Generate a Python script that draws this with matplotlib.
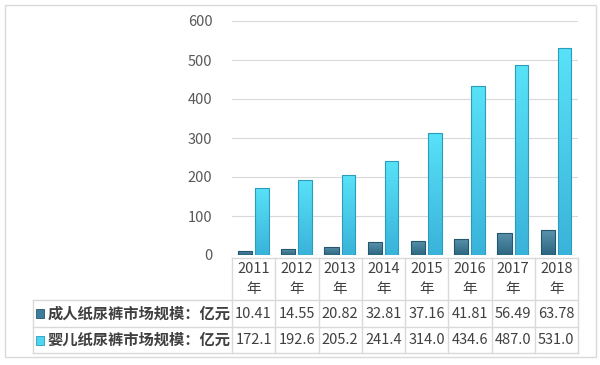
import numpy as np
import matplotlib
matplotlib.use('Agg')
import matplotlib.pyplot as plt
from matplotlib.patches import Rectangle
from matplotlib.lines import Line2D
from matplotlib.colors import LinearSegmentedColormap

years = ['2011', '2012', '2013', '2014', '2015', '2016', '2017', '2018']
adult = [10.41, 14.55, 20.82, 32.81, 37.16, 41.81, 56.49, 63.78]
baby = [172.1, 192.6, 205.2, 241.4, 314.0, 434.6, 487.0, 531.0]
series_names = ['成人纸尿裤市场规模：亿元', '婴儿纸尿裤市场规模：亿元']
yticks = [0, 100, 200, 300, 400, 500, 600]

plt.rcParams['font.family'] = ['Noto Sans CJK SC', 'DejaVu Sans']

W, H = 600, 365
fig = plt.figure(figsize=(6, 3.65), dpi=100)

def fx(px):
    return px / W

def fy(py):
    return 1 - py / H

# outer frame
fig.patches.append(Rectangle((fx(5), fy(357)), fx(591), 352 / H, transform=fig.transFigure,
                             fill=False, edgecolor='#d9d9d9', lw=1))

c_dark = '#3c7d9b'
c_dark_edge = '#24576e'
c_light = '#4dd6f1'
c_light_edge = '#2c9cbc'
grid_c = '#d9d9d9'
txt_c = '#404040'

cm_dark = LinearSegmentedColormap.from_list('d', ['#2c6681', '#5b93ad'])
cm_light = LinearSegmentedColormap.from_list('l', ['#3ab3da', '#58e2f8'])

ax = fig.add_axes([fx(232), fy(255), fx(578 - 232), (255 - 21) / H])
x = np.arange(len(years))
b1 = ax.bar(x - 0.2, adult, width=0.33, color=c_dark, edgecolor=c_dark_edge, lw=0.8, zorder=3)
b2 = ax.bar(x + 0.19, baby, width=0.31, color=c_light, edgecolor=c_light_edge, lw=0.8, zorder=3)
ax.set_xlim(-0.5, len(years) - 0.5)
ax.set_ylim(0, 600)

grad = np.linspace(0, 1, 64).reshape(-1, 1)
for bars, cm in [(b1, cm_dark), (b2, cm_light)]:
    for p in bars:
        x0, y0 = p.get_x(), p.get_y()
        w, h = p.get_width(), p.get_height()
        im = ax.imshow(grad, cmap=cm, extent=[x0, x0 + w, y0, y0 + h], origin='lower',
                       aspect='auto', zorder=3.5, interpolation='bilinear')
        im.set_clip_path(p)
        p.set_facecolor('none')
        p.set_zorder(4)
ax.set_xlim(-0.5, len(years) - 0.5)
ax.set_ylim(0, 600)

ax.set_yticks(yticks)
ax.set_yticklabels([str(v) for v in yticks], fontsize=10.5, color='#595959')
ax.tick_params(axis='y', length=0, pad=14)
ax.set_xticks([])
ax.grid(axis='y', color=grid_c, lw=0.8, zorder=0)
ax.set_axisbelow(True)
for s in ax.spines.values():
    s.set_visible(False)

# data table under the chart
tab = fig.add_axes([fx(232), fy(353), fx(578 - 232), (353 - 258) / H])
tab.set_xlim(-0.5, len(years) - 0.5)
tab.set_ylim(0, 95)
tab.axis('off')
left = -0.5 - (232 - 33) / ((578 - 232) / len(years))

def hline(x0, x1, y):
    tab.add_line(Line2D([x0, x1], [y, y], color=grid_c, lw=1, clip_on=False))

def vline(xv, y0, y1):
    tab.add_line(Line2D([xv, xv], [y0, y1], color=grid_c, lw=1, clip_on=False))

hline(-0.5, len(years) - 0.5, 95)
hline(left, len(years) - 0.5, 53)
hline(left, len(years) - 0.5, 26)
hline(left, len(years) - 0.5, 0)
for i in range(len(years) + 1):
    vline(i - 0.5, 0, 95)
vline(left, 0, 53)

for i, yr in enumerate(years):
    tab.text(i, 84, yr, ha='center', va='center', fontsize=10.5, color=txt_c)
    tab.text(i, 64, '年', ha='center', va='center', fontsize=10.5, color=txt_c)
    tab.text(i, 39.5, f'{adult[i]:.2f}', ha='center', va='center', fontsize=10.5, color=txt_c)
    tab.text(i, 13, f'{baby[i]:.1f}', ha='center', va='center', fontsize=10.5, color=txt_c)

sq = 0.17
for (yc, col, ec, name) in [(39.5, c_dark, c_dark_edge, series_names[0]),
                            (13, c_light, c_light_edge, series_names[1])]:
    tab.add_patch(Rectangle((left + 0.08, yc - 4.5), sq, 9, facecolor=col, edgecolor=ec,
                            lw=0.6, clip_on=False))
    tab.text(left + 0.33, yc, name, ha='left', va='center', fontsize=11,
             color=txt_c, fontweight='bold')

fig.savefig('out.png', dpi=100)
